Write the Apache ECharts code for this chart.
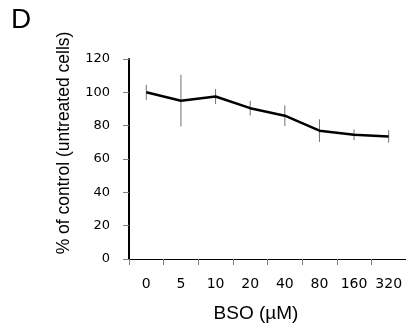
<!DOCTYPE html>
<html>
<head>
<meta charset="utf-8">
<script src="https://cdn.jsdelivr.net/npm/echarts@6/dist/echarts.min.js"></script>
<style>
  html, body { margin: 0; padding: 0; background: #fff; }
  #chart { width: 406px; height: 331px; }
</style>
</head>
<body>
<div id="chart"></div>
<script>
// BSO concentrations (µM) and viability as % of untreated control
const doses = ['0', '5', '10', '20', '40', '80', '160', '320'];
const meanPct = [100, 95, 97.5, 90.5, 86, 77, 74.5, 73.5];
const errPct = [4.5, 15.5, 4.5, 4.4, 6.2, 6.8, 3.2, 3.8];
const yTicks = [0, 20, 40, 60, 80, 100, 120];

const SANS = '"Liberation Sans", Arial, sans-serif';
const TICK_FONT = '"DejaVu Sans", sans-serif';

const chart = echarts.init(document.getElementById('chart'), null, { renderer: 'canvas' });

const errData = doses.map((d, i) => [i, meanPct[i] - errPct[i], meanPct[i] + errPct[i]]);

chart.setOption({
  animation: false,
  grid: { left: 129, top: 59, width: 278, height: 200, containLabel: false },
  xAxis: {
    type: 'category',
    data: doses,
    boundaryGap: true,
    axisLine: { lineStyle: { color: '#000', width: 1 } },
    axisTick: { show: true, interval: 0, length: 6, lineStyle: { color: '#808080', width: 1 } },
    axisLabel: {
      interval: 0, hideOverlap: false,
      color: '#000', fontSize: 14, fontFamily: TICK_FONT, margin: 18
    },
    splitLine: { show: false }
  },
  yAxis: {
    type: 'value',
    min: yTicks[0],
    max: yTicks[yTicks.length - 1],
    interval: 20,
    axisLine: { show: true, lineStyle: { color: '#000', width: 2 } },
    axisTick: { show: true, length: 6, lineStyle: { color: '#808080', width: 1 } },
    axisLabel: { color: '#000', fontSize: 13, fontFamily: TICK_FONT, margin: 19 },
    splitLine: { show: false }
  },
  graphic: [
    {
      type: 'text', x: 11, y: 20,
      style: { text: 'D', fill: '#000', font: '28px ' + SANS, align: 'left', verticalAlign: 'middle' }
    },
    {
      type: 'text', x: 64, y: 143, rotation: Math.PI / 2,
      style: {
        text: '% of control (untreated cells)', fill: '#000',
        font: '17.5px ' + SANS, align: 'center', verticalAlign: 'middle'
      }
    },
    {
      type: 'text', x: 256, y: 314,
      style: {
        text: 'BSO (µM)', fill: '#000',
        font: '19px ' + SANS, align: 'center', verticalAlign: 'middle'
      }
    }
  ],
  series: [
    {
      type: 'custom',
      data: errData,
      z: 1,
      renderItem: function (params, api) {
        const top = api.coord([api.value(0), api.value(2)]);
        const bot = api.coord([api.value(0), api.value(1)]);
        return {
          type: 'line',
          shape: { x1: top[0], y1: top[1], x2: bot[0], y2: bot[1] },
          style: { stroke: '#707070', lineWidth: 1 }
        };
      }
    },
    {
      type: 'line',
      data: meanPct,
      z: 2,
      symbol: 'none',
      lineStyle: { color: '#000', width: 2.5 }
    }
  ]
});
</script>
</body>
</html>
